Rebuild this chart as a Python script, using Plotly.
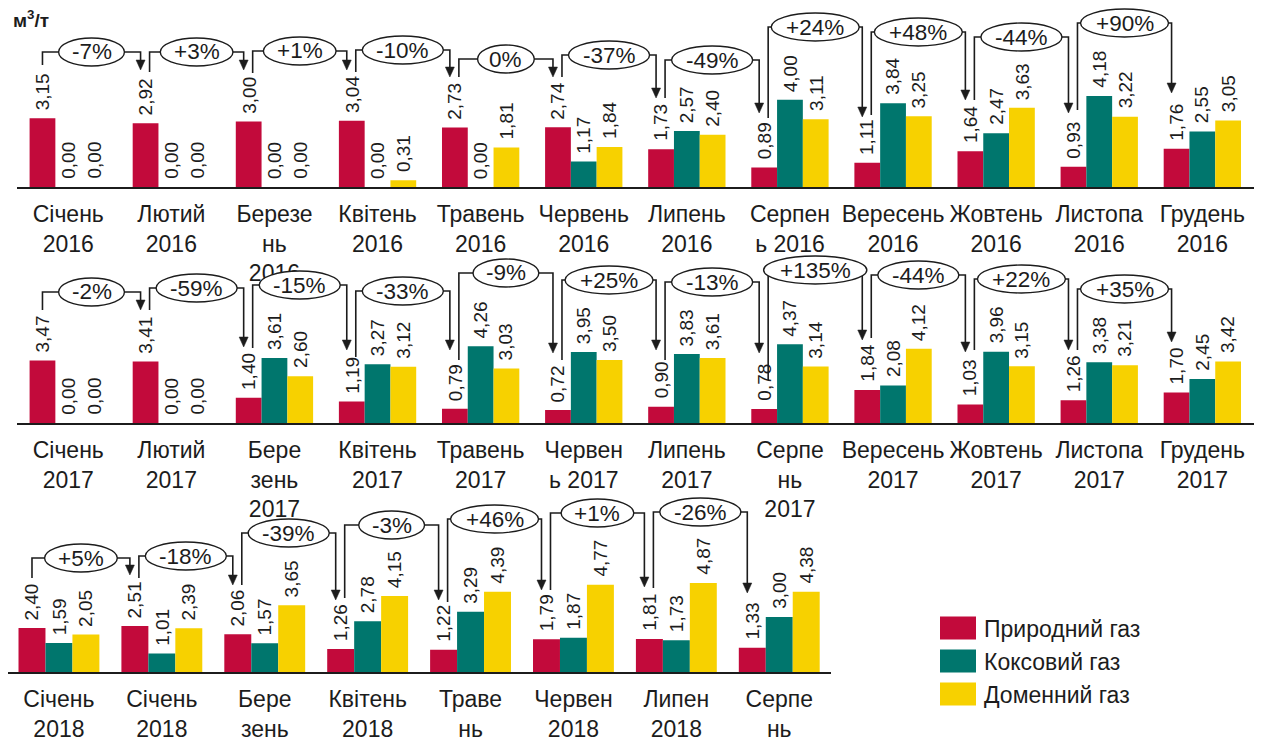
import plotly.graph_objects as go

W, H = 1266, 738

# ---------------- data ----------------
series_names = ["Природний газ", "Коксовий газ", "Доменний газ"]

cats_2016 = ["Січень<br>2016", "Лютий<br>2016", "Березе<br>нь<br>2016", "Квітень<br>2016",
             "Травень<br>2016", "Червень<br>2016", "Липень<br>2016", "Серпен<br>ь 2016",
             "Вересень<br>2016", "Жовтень<br>2016", "Листопа<br>2016", "Грудень<br>2016"]
nat_2016 = [3.15, 2.92, 3.00, 3.04, 2.73, 2.74, 1.73, 0.89, 1.11, 1.64, 0.93, 1.76]
coke_2016 = [0.00, 0.00, 0.00, 0.00, 0.00, 1.17, 2.57, 4.00, 3.84, 2.47, 4.18, 2.55]
blast_2016 = [0.00, 0.00, 0.00, 0.31, 1.81, 1.84, 2.40, 3.11, 3.25, 3.63, 3.22, 3.05]
pct_2016 = ["-7%", "+3%", "+1%", "-10%", "0%", "-37%", "-49%", "+24%", "+48%", "-44%", "+90%"]

cats_2017 = ["Січень<br>2017", "Лютий<br>2017", "Бере<br>зень<br>2017", "Квітень<br>2017",
             "Травень<br>2017", "Червен<br>ь 2017", "Липень<br>2017", "Серпе<br>нь<br>2017",
             "Вересень<br>2017", "Жовтень<br>2017", "Листопа<br>2017", "Грудень<br>2017"]
nat_2017 = [3.47, 3.41, 1.40, 1.19, 0.79, 0.72, 0.90, 0.78, 1.84, 1.03, 1.26, 1.70]
coke_2017 = [0.00, 0.00, 3.61, 3.27, 4.26, 3.95, 3.83, 4.37, 2.08, 3.96, 3.38, 2.45]
blast_2017 = [0.00, 0.00, 2.60, 3.12, 3.03, 3.50, 3.61, 3.14, 4.12, 3.15, 3.21, 3.42]
pct_2017 = ["-2%", "-59%", "-15%", "-33%", "-9%", "+25%", "-13%", "+135%", "-44%", "+22%", "+35%"]

cats_2018 = ["Січень<br>2018", "Січень<br>2018", "Бере<br>зень<br>2018", "Квітень<br>2018",
             "Траве<br>нь<br>2018", "Червен<br>2018", "Липен<br>2018", "Серпе<br>нь<br>2018"]
nat_2018 = [2.40, 2.51, 2.06, 1.26, 1.22, 1.79, 1.81, 1.33]
coke_2018 = [1.59, 1.01, 1.57, 2.78, 3.29, 1.87, 1.73, 3.00]
blast_2018 = [2.05, 2.39, 3.65, 4.15, 4.39, 4.77, 4.87, 4.38]
pct_2018 = ["+5%", "-18%", "-39%", "-3%", "+46%", "+1%", "-26%"]

# ---------------- styling / layout ----------------
colors = ["#C20A3B", "#00766D", "#F7D100"]
FONT = "Liberation Sans, Arial, sans-serif"
INK = "#1c1c1c"

# bracket geometry (pixel y of connector line, start-line bottom, arrow tip)
brk_2016 = [(52, 65, 70), (52, 72, 70), (51, 73, 70), (50, 72, 77), (59, 77, 77), (55, 77, 98),
            (60, 98, 113), (27, 118, 117), (32, 115, 100), (37, 100, 113), (23, 110, 93)]
brk_2017 = [(292, 310, 310), (288, 310, 347), (285, 348, 350), (291, 357, 350), (273, 360, 353),
            (280, 360, 350), (282, 360, 353), (270, 380, 340), (275, 338, 352), (279, 350, 350),
            (289, 350, 342)]
brk_2018 = [(558, 578, 575), (556, 578, 585), (533, 585, 600), (525, 598, 600), (519, 602, 590),
            (513, 590, 587), (512, 588, 593)]

rows = [
    dict(cats=cats_2016, vals=[nat_2016, coke_2016, blast_2016], pct=pct_2016, brk=brk_2016,
         base=187, scale=21.8, x0=16.7, step=103.1, bw=0.25),
    dict(cats=cats_2017, vals=[nat_2017, coke_2017, blast_2017], pct=pct_2017, brk=brk_2017,
         base=423, scale=18.0, x0=16.7, step=103.1, bw=0.25),
    dict(cats=cats_2018, vals=[nat_2018, coke_2018, blast_2018], pct=pct_2018, brk=brk_2018,
         base=672, scale=18.3, x0=7.5, step=102.9, bw=0.262),
]
YMAX = 8.0
PCT_SIZE = 22.5


def py(p):
    return 1 - p / H


def text_w(s, size):
    wmap = {"+": 0.584, "-": 0.333, "%": 0.889}
    return sum(wmap.get(c, 0.556) for c in s) * size


fig = go.Figure()
annotations = []
shapes = []

for r, row in enumerate(rows):
    n = len(row["cats"])
    sfx = "" if r == 0 else str(r + 1)
    xref, yref = "x" + sfx, "y" + sfx
    idx = list(range(n))
    bw = row["bw"]
    for k in range(3):
        off = -1.5 * bw + k * bw
        fig.add_trace(go.Bar(
            x=idx, y=row["vals"][k], name=series_names[k], width=bw, offset=off,
            marker=dict(color=colors[k], line=dict(width=0)),
            xaxis=xref, yaxis=yref, showlegend=False, hoverinfo="skip"))
        for i, v in enumerate(row["vals"][k]):
            annotations.append(dict(
                x=i + off + bw / 2, y=v, xref=xref, yref=yref, yshift=6,
                text=f"{v:.2f}".replace(".", ","), textangle=-90, showarrow=False,
                xanchor="center", yanchor="bottom",
                font=dict(family=FONT, size=19, color=INK)))

    top = row["base"] - YMAX * row["scale"]
    fig.layout["xaxis" + sfx] = dict(
        domain=[row["x0"] / W, (row["x0"] + n * row["step"]) / W],
        range=[-0.5, n - 0.5], anchor=yref, tickmode="array", tickvals=idx,
        ticktext=row["cats"], ticks="", showgrid=False, zeroline=False,
        showline=True, linecolor=INK, linewidth=2, ticklabelstandoff=5,
        automargin=False,
        tickfont=dict(family=FONT, size=23, color=INK), fixedrange=True)
    fig.layout["yaxis" + sfx] = dict(
        domain=[py(row["base"]), py(top)], range=[0, YMAX], anchor=xref,
        visible=False, showgrid=False, zeroline=False, fixedrange=True,
        automargin=False)

    # month-on-month change brackets
    step = row["step"]
    for t, (lbl, (ly, sb, tip)) in enumerate(zip(row["pct"], row["brk"])):
        sx = t - bw + (4 / step if t > 0 else 0)
        ax = (t + 1) - bw - 5 / step
        cx = (sx + ax) / 2
        ew = (1.22 * text_w(lbl, PCT_SIZE) + 17) / step
        eh = 28
        shapes.append(dict(type="path", xref=xref, yref="paper",
                           path=f"M {sx},{py(sb)} L {sx},{py(ly)} L {ax},{py(ly)} L {ax},{py(tip - 9)}",
                           line=dict(color=INK, width=1.6)))
        shapes.append(dict(type="path", xref=xref, yref="paper",
                           path=f"M {ax - 4.5 / step},{py(tip - 10)} L {ax + 4.5 / step},{py(tip - 10)} L {ax},{py(tip)} Z",
                           fillcolor=INK, line=dict(color=INK, width=0.5)))
        shapes.append(dict(type="circle", xref=xref, yref="paper",
                           x0=cx - ew / 2, x1=cx + ew / 2, y0=py(ly + eh / 2), y1=py(ly - eh / 2),
                           fillcolor="white", line=dict(color=INK, width=1.4)))
        annotations.append(dict(x=cx, y=py(ly), xref=xref, yref="paper", text=lbl,
                                showarrow=False, xanchor="center", yanchor="middle",
                                font=dict(family=FONT, size=PCT_SIZE, color=INK)))

# unit label
annotations.append(dict(x=11 / W, y=py(19), xref="paper", yref="paper",
                        text="<b>м<sup>3</sup>/т</b>", showarrow=False,
                        xanchor="left", yanchor="middle",
                        font=dict(family=FONT, size=19, color=INK)))

# legend
leg_y = [628, 661, 694]
for k in range(3):
    yc = leg_y[k]
    shapes.append(dict(type="rect", xref="paper", yref="paper",
                       x0=940 / W, x1=976 / W, y0=py(yc + 11.5), y1=py(yc - 11.5),
                       fillcolor=colors[k], line=dict(color=colors[k], width=0)))
    annotations.append(dict(x=982 / W, y=py(yc + 1), xref="paper", yref="paper",
                            text=series_names[k], showarrow=False, xanchor="left",
                            yanchor="middle", font=dict(family=FONT, size=23, color=INK)))

fig.update_layout(
    width=W, height=H, autosize=False,
    margin=dict(l=0, r=0, t=0, b=0, pad=0, autoexpand=False),
    paper_bgcolor="white", plot_bgcolor="white",
    barmode="group", separators=", ",
    showlegend=False,
    annotations=annotations, shapes=shapes,
    font=dict(family=FONT, color=INK),
)

fig.write_html("out.html")
